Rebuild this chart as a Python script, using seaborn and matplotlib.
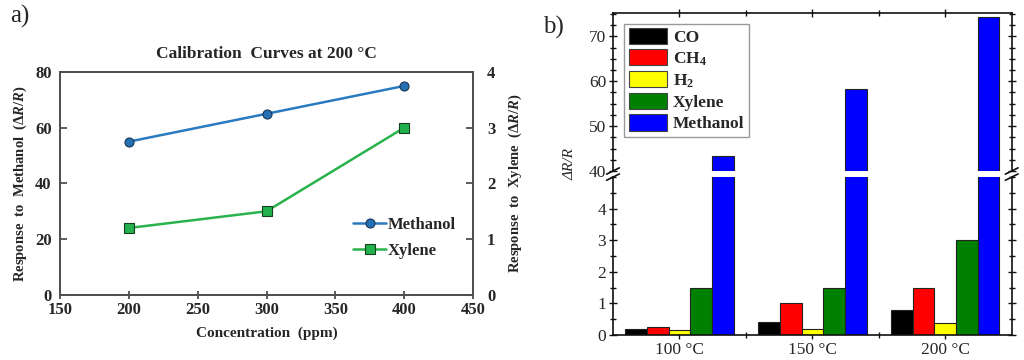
import matplotlib
matplotlib.use('Agg')
import matplotlib.pyplot as plt
import seaborn as sns
import pandas as pd
from matplotlib.patches import Patch
from matplotlib.ticker import MultipleLocator, FixedLocator

# ---------------- data ----------------
concentration = [200, 300, 400]
methanol_resp = [55, 65, 75]
xylene_resp = [1.2, 1.5, 3.0]

temperatures = ['100 °C', '150 °C', '200 °C']
gases = ['CO', 'CH$_4$', 'H$_2$', 'Xylene', 'Methanol']
co = [0.18, 0.4, 0.8]
ch4 = [0.25, 1.0, 1.5]
h2 = [0.17, 0.2, 0.37]
xylene = [1.5, 1.5, 3.0]
methanol = [43.3, 58.2, 74.2]
gas_colors = ['#000000', '#ff0000', '#ffff00', '#008000', '#0000ff']

# ---------------- style ----------------
sns.set_theme(style='white')
plt.rcParams['font.family'] = ['Liberation Serif', 'DejaVu Serif']
plt.rcParams['mathtext.fontset'] = 'custom'
plt.rcParams['mathtext.rm'] = 'Liberation Serif:bold'
plt.rcParams['mathtext.it'] = 'Liberation Serif:italic:bold'
plt.rcParams['mathtext.bf'] = 'Liberation Serif:bold'

fig = plt.figure(figsize=(10.24, 3.6), dpi=100)

# ---------------- panel a ----------------
ax = fig.add_axes([0.0586, 0.181, 0.4034, 0.619])
ax2 = ax.twinx()
line_df = pd.DataFrame({'conc': concentration, 'meth': methanol_resp, 'xyl': xylene_resp})
sns.lineplot(data=line_df, x='conc', y='meth', ax=ax, color='#2a7ac0', marker='o',
             markersize=6.5, markerfacecolor='#2370b5', markeredgecolor='#1b3556',
             markeredgewidth=0.8, linewidth=1.8, label='Methanol', legend=False)
sns.lineplot(data=line_df, x='conc', y='xyl', ax=ax2, color='#2ab34d', marker='s',
             markersize=6.5, markerfacecolor='#22b14c', markeredgecolor='#14401f',
             markeredgewidth=0.8, linewidth=1.8, label='Xylene', legend=False)
ax.set_xlim(150, 450)
ax.set_ylim(0, 80)
ax2.set_ylim(0, 4)
ax.set_xticks([150, 200, 250, 300, 350, 400, 450])
ax.set_yticks([0, 20, 40, 60, 80])
ax2.set_yticks([0, 1, 2, 3, 4])
for a in (ax, ax2):
    for s in a.spines.values():
        s.set_color('#505050')
        s.set_linewidth(1.4)
ax.tick_params(axis='x', direction='inout', length=6, width=1.2, color='#404040',
               labelsize=12, pad=2, bottom=True)
ax.tick_params(axis='y', direction='in', length=5, width=1.2, color='#404040',
               labelsize=12, pad=6, left=True)
ax2.tick_params(axis='y', direction='in', length=5, width=1.2, color='#404040',
                labelsize=12, pad=10, right=True)
for lab in ax.get_xticklabels() + ax.get_yticklabels() + ax2.get_yticklabels():
    lab.set_fontweight('bold')
ax.set_xlabel('Concentration  (ppm)', fontweight='bold', fontsize=11, labelpad=6)
ax.set_ylabel(r'Response  to  Methanol  ($\mathit{\Delta R/R}$)', fontweight='bold',
              fontsize=10.5, labelpad=4)
ax2.set_ylabel(r'Response  to  Xylene  ($\mathit{\Delta R/R}$)', fontweight='bold',
               fontsize=10.5, labelpad=8)
ax.set_title('Calibration  Curves at 200 °C', fontweight='bold', fontsize=12.5, pad=10)
h1, l1 = ax.get_legend_handles_labels()
h2_, l2 = ax2.get_legend_handles_labels()
ax.legend(h1 + h2_, l1 + l2, loc='lower right', bbox_to_anchor=(0.995, 0.095),
          frameon=False, prop={'weight': 'bold', 'size': 12}, handlelength=2.0,
          handletextpad=0.1, labelspacing=0.6)
fig.text(0.01, 0.955, 'a)', fontsize=18, ha='left', va='center')

# ---------------- panel b (broken axis) ----------------
rows = []
for gi, g in enumerate(gases):
    vals = [co, ch4, h2, xylene, methanol][gi]
    for t, v in zip(temperatures, vals):
        rows.append({'temp': t, 'gas': g, 'value': v})
bar_df = pd.DataFrame(rows)

ax_top = fig.add_axes([0.5986, 0.525, 0.3894, 0.439])
ax_bot = fig.add_axes([0.5986, 0.0694, 0.3894, 0.4386])
for a in (ax_top, ax_bot):
    sns.barplot(data=bar_df, x='temp', y='value', hue='gas', order=temperatures,
                hue_order=gases, palette=gas_colors, saturation=1, width=0.815,
                edgecolor='#222222', linewidth=0.8, errorbar=None, legend=False, ax=a)
    a.set_xlim(-0.5, 2.5)
    a.set_xlabel('')
    a.set_ylabel('')
    for s in a.spines.values():
        s.set_color('#111111')
        s.set_linewidth(1.2)
    a.xaxis.set_major_locator(FixedLocator([0, 1, 2]))
    a.xaxis.set_minor_locator(FixedLocator([0.5, 1.5]))
    a.tick_params(axis='both', which='major', direction='inout', length=6, width=1.0,
                  color='#111111', labelsize=12.5, left=True, right=True, pad=2)
    a.tick_params(axis='both', which='minor', direction='inout', length=4, width=1.0,
                  color='#111111', left=True, right=True)

ax_top.set_ylim(40, 75.2)
ax_bot.set_ylim(0, 5)
ax_top.set_yticks([40, 50, 60, 70])
ax_top.yaxis.set_minor_locator(MultipleLocator(2.5))
ax_bot.set_yticks([0, 1, 2, 3, 4])
ax_bot.yaxis.set_minor_locator(MultipleLocator(0.5))
ax_top.spines['bottom'].set_visible(False)
ax_bot.spines['top'].set_visible(False)
ax_top.tick_params(axis='x', which='both', top=True, bottom=False, labelbottom=False)
ax_bot.tick_params(axis='x', which='both', top=False, bottom=True, labelbottom=True)
ax_bot.set_xticklabels(temperatures)

# break marks
for a, yb in ((ax_top, 0.0), (ax_bot, 1.0)):
    h = a.get_position().height
    dy = 0.02 / h * 0.44
    for xb in (0.0, 1.0):
        a.plot([xb - 0.016, xb + 0.016], [yb - dy, yb + dy], transform=a.transAxes,
               color='#111111', lw=1.2, clip_on=False)

handles = [Patch(facecolor=c, edgecolor='#444444', linewidth=0.8) for c in gas_colors]
ax_top.legend(handles, gases, loc='upper left', bbox_to_anchor=(0.02, 0.955),
              prop={'weight': 'bold', 'size': 12.5}, handlelength=2.2, handleheight=1.05,
              handletextpad=0.35, labelspacing=0.2, borderpad=0.25, borderaxespad=0.2,
              frameon=True, edgecolor='#999999', fancybox=False, framealpha=1)
fig.text(0.557, 0.545, 'ΔR/R', rotation=90, style='italic', fontsize=11,
         ha='center', va='center')
fig.text(0.530, 0.925, 'b)', fontsize=18, ha='left', va='center')

fig.savefig('out.png', dpi=100)
